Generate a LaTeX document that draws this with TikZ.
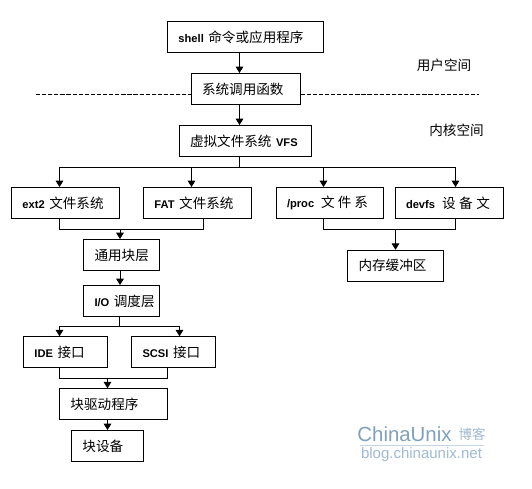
\documentclass[tikz,border=0pt]{standalone}
\usepackage{fontspec}
\setmainfont{Noto Sans CJK SC}
\newfontfamily\latfont{Liberation Sans}
\usetikzlibrary{arrows.meta}
\newcommand{\lat}[1]{{\latfont\fontsize{9.5}{11}\selectfont\bfseries #1}}
\definecolor{wmblue}{RGB}{128,160,190}
\definecolor{wmlight}{RGB}{160,185,210}

\begin{document}
\begin{tikzpicture}[
  x=.03cm, y=-.03cm,
  font=\fontsize{11.6}{14}\selectfont, >={Triangle[length=5.5pt,width=6.6pt]},
  fsbox/.style={draw,line width=.8pt,minimum height=.93cm,inner xsep=.33cm,
    text width=#1,align=left},
  arr/.style={->,line width=.8pt},
  link/.style={line width=.8pt},
  usrkern/.style={line width=.6pt,dash pattern=on 3.6pt off 1.6pt}
]
\useasboundingbox (0,0) rectangle (532,489);

\node[fsbox=4.02cm] (shell) at (245.5,37) {\lat{shell} 命令或应用程序};
\node[fsbox=2.61cm] (syscall) at (245.5,89) {系统调用函数};
\node[fsbox=3.315cm] (vfs) at (245.25,141) {虚拟文件系统 \lat{VFS}};

\node[fsbox=2.58cm] (ext2) at (65.5,203) {\lat{ext2} 文件系统};
\node[fsbox=2.58cm] (fat) at (197.5,203) {\lat{FAT} 文件系统};
\node[fsbox=2.565cm] (proc) at (329.75,203) {\lat{/proc}\hspace{6pt}文\kern2.5pt 件\kern2.5pt 系};
\node[fsbox=2.595cm] (devfs) at (449.25,203) {\lat{devfs}\hspace{6pt}设\kern3pt 备\kern3pt 文};

\node[fsbox=1.62cm] (generic) at (121.5,255) {通用块层};
\node[fsbox=1.62cm] (iosched) at (121.5,301) {\mbox{\lat{I/O} 调度层}};
\node[fsbox=1.86cm] (ide) at (65.5,352.25) {\lat{IDE} 接口};
\node[fsbox=1.86cm] (scsi) at (173.5,352.25) {\lat{SCSI} 接口};
\node[fsbox=2.58cm] (driver) at (113.5,404.25) {块驱动程序};
\node[fsbox=1.5cm] (device) at (107.5,446) {块设备};
\node[fsbox=2.22cm] (cache) at (395.5,265.75) {内存缓冲区};

\node (user) at (444,65) {用户空间};
\node (kernel) at (456.5,130) {内核空间};

% user / kernel boundary
\coordinate (dashL) at (36,94);
\coordinate (dashR) at (479,94);
\draw[usrkern] (dashL) -- (dashL -| syscall.west);
\draw[usrkern] (syscall.east |- dashR) -- (dashR);

\coordinate (spine) at (239.5,167.5);
\draw[arr] (spine |- shell.south) -- (spine |- syscall.north);
\draw[arr] (spine |- syscall.south) -- (spine |- vfs.north);

\coordinate (busA) at (59.5,167.5);
\coordinate (busB) at (191.5,167.5);
\coordinate (busC) at (323.5,167.5);
\coordinate (busD) at (455.5,167.5);
\draw[link] (spine |- vfs.south) -- (spine);
\draw[link] (busA) -- (busD);
\draw[arr] (busA) -- (busA |- ext2.north);
\draw[arr] (busB) -- (busB |- fat.north);
\draw[arr] (busC) -- (busC |- proc.north);
\draw[arr] (busD) -- (busD |- devfs.north);

\coordinate (leftA) at (59.5,229.5);
\coordinate (leftB) at (203.5,229.5);
\coordinate (leftMid) at (120,229.5);
\draw[link] (leftA |- ext2.south) -- (leftA) -- (leftB) -- (leftB |- fat.south);
\draw[arr] (leftMid) -- (leftMid |- generic.north);

\coordinate (rightMid) at (395.5,229.5);
\draw[link] (busC |- proc.south) -- (busC |- rightMid) -- (busD |- rightMid) -- (busD |- devfs.south);
\draw[arr] (rightMid) -- (rightMid |- cache.north);

\draw[arr] (leftMid |- generic.south) -- (leftMid |- iosched.north);

\coordinate (ioMid) at (119.5,326);
\coordinate (ioA) at (59.5,326);
\coordinate (ioB) at (179.5,326);
\draw[link] (ioMid |- iosched.south) -- (ioMid);
\draw[link] (ioA) -- (ioB);
\draw[arr] (ioA) -- (ioA |- ide.north);
\draw[arr] (ioB) -- (ioB |- scsi.north);

\coordinate (ifA) at (59.5,378.5);
\coordinate (ifB) at (167.5,378.5);
\coordinate (ifMid) at (107.5,378.5);
\draw[link] (ifA |- ide.south) -- (ifA) -- (ifB) -- (ifB |- scsi.south);
\draw[arr] (ifMid) -- (ifMid |- driver.north);
\draw[arr] (ifMid |- driver.south) -- (ifMid |- device.north);

% watermark
\node[font=\latfont\fontsize{17.4}{20}\selectfont,text=wmblue,inner sep=0pt] (wmname) at (404.5,434) {ChinaUnix};
\node[font=\fontsize{11.5}{14}\selectfont,text=wmlight,inner sep=0pt] (wmblog) at (472,434) {博客};
\node[font=\latfont\fontsize{12.8}{14}\selectfont,text=wmlight,inner sep=0pt] (wmurl) at (421.5,455) {blog.chinaunix.net};
\coordinate (wmlineL) at (360,445);
\coordinate (wmlineR) at (484,445);
\draw[wmlight!60,line width=.5pt] (wmlineL) -- (wmlineR);
\end{tikzpicture}
\end{document}
